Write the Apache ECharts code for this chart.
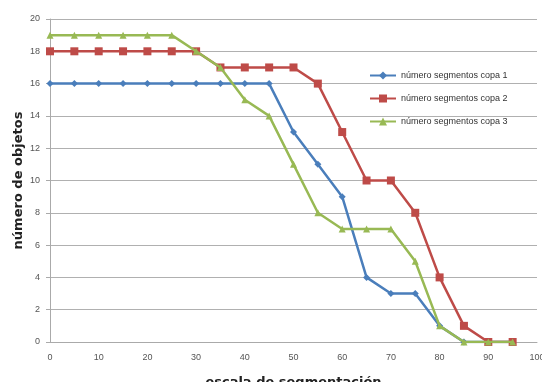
<!DOCTYPE html>
<html><head><meta charset="utf-8">
<script src="https://cdn.jsdelivr.net/npm/echarts@6/dist/echarts.min.js"></script>
<style>html,body{margin:0;padding:0;background:#fff}#c{width:542px;height:382px}</style>
</head><body><div id="c"></div>
<script>
const xValues = [0,5,10,15,20,25,30,35,40,45,50,55,60,65,70,75,80,85,90,95];
const copa1 = [16,16,16,16,16,16,16,16,16,16,13,11,9,4,3,3,1,0,0,0];
const copa2 = [18,18,18,18,18,18,18,17,17,17,17,16,13,10,10,8,4,1,0,0];
const copa3 = [19,19,19,19,19,19,18,17,15,14,11,8,7,7,7,5,1,0,0,0];
const seriesNames = ['número segmentos copa 1','número segmentos copa 2','número segmentos copa 3'];
const colors = ['#4a7ebb','#be4b48','#98b954'];
const symbols = ['diamond','rect','triangle'];
const symbolSizes = [7,8,7];
const allData = [copa1, copa2, copa3];

const chart = echarts.init(document.getElementById('c'));
chart.setOption({
  animation:false,
  grid:{left:50,right:5,top:19,bottom:40,containLabel:false,outerBoundsMode:'none'},
  legend:{
    orient:'vertical', left:364, top:66, itemGap:14, itemWidth:26, itemHeight:10,
    textStyle:{fontFamily:'Liberation Sans',fontSize:9,color:'#333'},
    data:seriesNames
  },
  xAxis:{type:'value',min:0,max:100,interval:10,
    name:'escala de segmentación',nameLocation:'middle',nameGap:34,
    nameTextStyle:{fontFamily:'DejaVu Sans',fontWeight:'bold',fontSize:13,color:'#222'},
    axisLine:{lineStyle:{color:'#aaa'}},axisTick:{show:false},
    axisLabel:{fontFamily:'Liberation Sans',fontSize:9,color:'#555',margin:11},
    splitLine:{show:false}},
  yAxis:{type:'value',min:0,max:20,interval:2,
    name:'número de objetos',nameLocation:'middle',nameGap:25,nameMoveOverlap:false,
    nameTextStyle:{fontFamily:'DejaVu Sans',fontWeight:'bold',fontSize:13,color:'#222'},
    axisLine:{show:true,lineStyle:{color:'#aaa'}},axisTick:{show:true,length:4,lineStyle:{color:'#aaa'}},
    axisLabel:{fontFamily:'Liberation Sans',fontSize:9,color:'#555',margin:10},
    splitLine:{lineStyle:{color:'#b0b0b0',width:1.2}}},
  series:allData.map((d,i)=>({
    name:seriesNames[i],type:'line',
    data:xValues.map((x,j)=>[x,d[j]]),
    symbol:symbols[i],symbolSize:symbolSizes[i],
    lineStyle:{color:colors[i],width:2.5},
    itemStyle:{color:colors[i]},
    z:i===2?3:2
  }))
});
</script></body></html>
